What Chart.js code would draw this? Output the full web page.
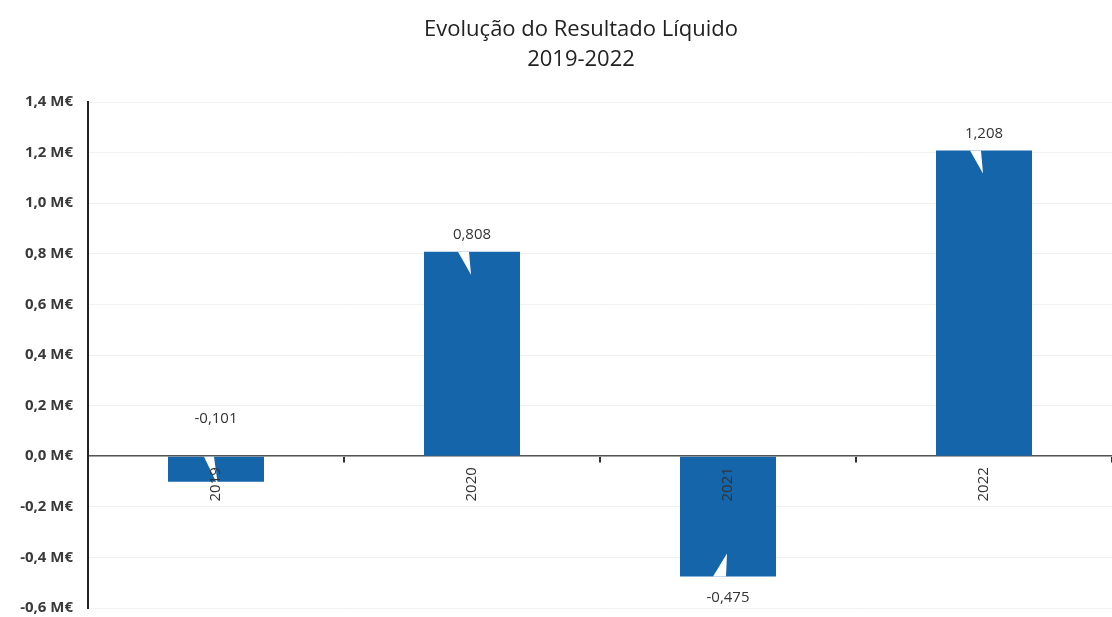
<!DOCTYPE html>
<html>
<head>
<meta charset="utf-8">
<script src="https://cdn.jsdelivr.net/npm/chart.js@4/dist/chart.umd.min.js"></script>
<style>
    html, body { margin: 0; padding: 0; background: #fff; overflow: hidden; }
    #wrap { width: 1112px; height: 632px; }
</style>
</head>
<body>
<div id="wrap"><canvas id="resultChart"></canvas></div>
<script>
const years = ['2019', '2020', '2021', '2022'];
const netResult = [-0.101, 0.808, -0.475, 1.208];
const titleLines = ['Evolução do Resultado Líquido', '2019-2022'];
const yMin = -0.6;
const yMax = 1.4;
const yStep = 0.2;

const barBlue = '#1565AB';
const fontFam = '"Open Sans", "Liberation Sans", sans-serif';

// two-line title, centred a bit left of the plot centre like the original
const chartTitle = {
    id: 'chartTitle',
    afterDraw(chart) {
        const ctx = chart.ctx;
        ctx.save();
        ctx.font = '22px ' + fontFam;
        ctx.fillStyle = '#222222';
        ctx.textAlign = 'center';
        ctx.textBaseline = 'middle';
        titleLines.forEach((t, i) => ctx.fillText(t, 581, 30 + i * 30));
        ctx.restore();
    }
};

// value labels with the little white "callout" wedge cut into the bar
const calloutLabels = {
    id: 'calloutLabels',
    afterDatasetsDraw(chart) {
        const ctx = chart.ctx;
        const meta = chart.getDatasetMeta(0);
        ctx.save();
        ctx.font = '15px ' + fontFam;
        ctx.textAlign = 'center';
        ctx.textBaseline = 'middle';
        meta.data.forEach((bar, i) => {
            const v = netResult[i];
            const cx = bar.x;
            const top = Math.min(bar.y, bar.base);
            const bottom = Math.max(bar.y, bar.base);
            const short = bottom - top < 40;
            ctx.fillStyle = '#ffffff';
            ctx.beginPath();
            let ly;
            if (v >= 0) {
                ctx.moveTo(cx - 14, top);
                ctx.lineTo(cx - 3, top);
                ctx.lineTo(cx - 1, top + 23);
                ly = top - 17;
            } else if (short) {
                ctx.moveTo(cx - 12, top);
                ctx.lineTo(cx - 2, top);
                ctx.lineTo(cx + 2, bottom + 4);
                ly = top - 38;
            } else {
                ctx.moveTo(cx - 15, bottom);
                ctx.lineTo(cx - 2, bottom);
                ctx.lineTo(cx - 1, bottom - 23);
                ly = bottom + 21;
            }
            ctx.closePath();
            ctx.fill();
            ctx.fillStyle = '#333333';
            ctx.fillText(v.toFixed(3).replace('.', ','), cx, ly);
        });
        ctx.restore();
    }
};

new Chart(document.getElementById('resultChart').getContext('2d'), {
    type: 'bar',
    data: {
        labels: years,
        datasets: [{
            label: 'Resultado Líquido',
            data: netResult,
            backgroundColor: barBlue,
            borderWidth: 0,
            barPercentage: 0.75,
            categoryPercentage: 0.5
        }]
    },
    options: {
        responsive: true,
        maintainAspectRatio: false,
        animation: false,
        layout: {
            padding: { top: 102, right: 0, bottom: 0, left: 0 }
        },
        plugins: {
            legend: { display: false },
            tooltip: { enabled: false },
            title: { display: false }
        },
        scales: {
            x: {
                position: { y: 0 },
                grid: {
                    drawOnChartArea: false,
                    drawTicks: true,
                    tickLength: 6,
                    color: '#333333',
                    lineWidth: 2
                },
                border: { display: true, color: '#555555', width: 1.5 },
                ticks: {
                    z: 1,
                    minRotation: 90,
                    maxRotation: 90,
                    padding: 5,
                    color: '#333333',
                    font: { family: fontFam, size: 15 }
                }
            },
            y: {
                min: yMin,
                max: yMax,
                afterFit(scale) { scale.width = 88; },
                grid: {
                    color: '#f1f1f1',
                    drawTicks: false
                },
                border: { display: true, color: '#222222', width: 2 },
                ticks: {
                    stepSize: yStep,
                    padding: 15,
                    color: '#3a3a3a',
                    font: { family: fontFam, size: 15, weight: 'bold' },
                    callback: (value) => value.toFixed(1).replace('.', ',') + ' M€'
                }
            }
        }
    },
    plugins: [calloutLabels, chartTitle]
});
</script>
</body>
</html>
